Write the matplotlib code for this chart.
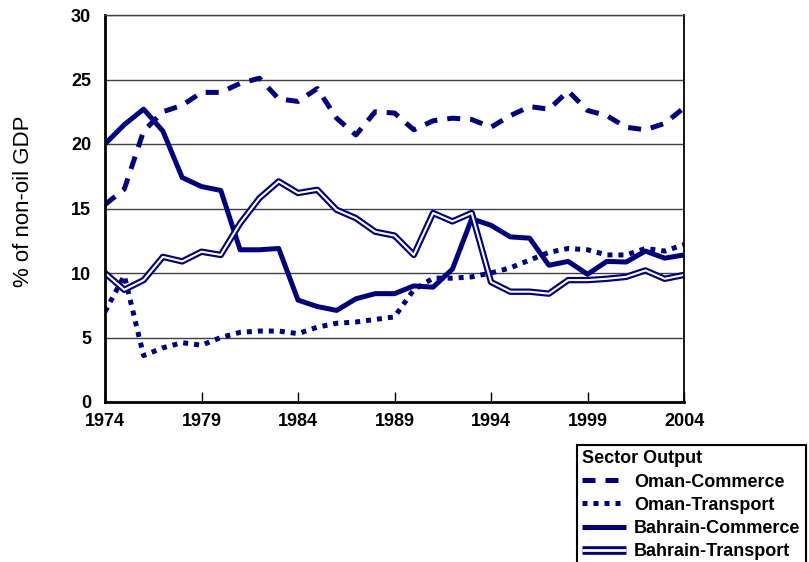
#!/usr/bin/env python3
# -*- coding: utf-8 -*-
"""
Sector output shares of non-oil GDP, Oman and Bahrain, 1974-2004.
"""
import matplotlib
matplotlib.use("Agg")
import matplotlib.pyplot as plt
from matplotlib.lines import Line2D

NAVY = "#000080"

PLOT_SETTINGS = {"font.family": ["Liberation Sans", "DejaVu Sans"],
                 "font.size": 13,
                 "font.weight": "bold",
                 "axes.labelweight": "normal",
                 "xtick.labelsize": 13,
                 "ytick.labelsize": 13,
                 "lines.solid_capstyle": "butt",
                 "lines.dash_capstyle": "butt",
                 }
plt.rcParams.update(PLOT_SETTINGS)

years = list(range(1974, 2005))

oman_commerce = [15.3, 16.5, 21.0, 22.5, 23.0, 24.0, 24.0, 24.7, 25.1, 23.5,
                 23.3, 24.3, 22.0, 20.7, 22.5, 22.4, 21.1, 21.8, 22.0, 21.9,
                 21.3, 22.2, 22.9, 22.7, 24.1, 22.6, 22.2, 21.3, 21.1, 21.6,
                 22.8]
oman_transport = [7.0, 9.8, 3.6, 4.2, 4.6, 4.4, 5.0, 5.4, 5.5, 5.5,
                  5.3, 5.8, 6.1, 6.2, 6.4, 6.6, 8.7, 9.6, 9.6, 9.7,
                  10.0, 10.4, 11.0, 11.6, 11.9, 11.8, 11.4, 11.4, 11.9, 11.7,
                  12.2]
bahrain_commerce = [20.0, 21.5, 22.7, 21.0, 17.4, 16.7, 16.4, 11.8, 11.8, 11.9,
                    7.9, 7.4, 7.1, 8.0, 8.4, 8.4, 9.0, 8.9, 10.3, 14.2,
                    13.7, 12.8, 12.7, 10.6, 10.9, 9.9, 10.9, 10.85, 11.7, 11.15,
                    11.4]
bahrain_transport = [10.0, 8.7, 9.45, 11.25, 10.9, 11.65, 11.4, 13.85, 15.8, 17.1,
                     16.2, 16.45, 14.9, 14.25, 13.2, 12.9, 11.4, 14.65, 14.0, 14.65,
                     9.3, 8.55, 8.55, 8.4, 9.45, 9.45, 9.55, 9.7, 10.2, 9.55,
                     9.85]

series_labels = ["Oman-Commerce", "Oman-Transport",
                 "Bahrain-Commerce", "Bahrain-Transport"]
xtick_years = [1974, 1979, 1984, 1989, 1994, 1999, 2004]
ytick_values = [0, 5, 10, 15, 20, 25, 30]

fig = plt.figure(figsize=(8.09, 5.62), dpi=100)
ax = fig.add_axes([105 / 809, 1 - 402 / 562, 579 / 809, 387 / 562])

ax.yaxis.grid(True, color="#404040", linewidth=1.0)
ax.set_axisbelow(True)

l1, = ax.plot(years, oman_commerce, color=NAVY, linewidth=3.6,
              dashes=(2.6, 2.0))
l2, = ax.plot(years, oman_transport, color=NAVY, linewidth=3.6,
              dashes=(1.0, 1.2))
l3, = ax.plot(years, bahrain_commerce, color=NAVY, linewidth=3.6)
ax.plot(years, bahrain_transport, color=NAVY, linewidth=4.6)
ax.plot(years, bahrain_transport, color="white", linewidth=1.5)

ax.set_xlim(1974, 2004)
ax.set_ylim(0, 30)
ax.set_xticks(xtick_years)
ax.set_yticks(ytick_values)
ax.tick_params(axis="x", direction="in", length=7, width=1.0, pad=8)
ax.tick_params(axis="y", direction="in", length=0, pad=10)

for side in ["left", "bottom"]:
    ax.spines[side].set_linewidth(2.0)
ax.spines["right"].set_linewidth(1.3)
ax.spines["top"].set_linewidth(1.0)
ax.spines["top"].set_color("#404040")

ax.set_ylabel("% of non-oil GDP", fontsize=16, fontweight="normal")
ax.yaxis.set_label_coords(-0.122, 0.52)

# legend proxy for the double line, drawn a bit heavier like the original
double_outer = Line2D([], [], color=NAVY, linewidth=6.2)
double_inner = Line2D([], [], color="white", linewidth=2.0)

leg = fig.legend([l1, l2, l3, (double_outer, double_inner)], series_labels,
                 loc="upper left",
                 bbox_to_anchor=(577 / 809, 1 - 445 / 562),
                 borderaxespad=0.0,
                 title="Sector Output",
                 title_fontproperties={"weight": "bold", "size": 13},
                 alignment="left",
                 frameon=True, fancybox=False,
                 edgecolor="black",
                 handlelength=2.4,
                 handletextpad=0.45,
                 labelspacing=0.34,
                 borderpad=0.3)
leg.get_frame().set_linewidth(1.5)
leg.get_frame().set_alpha(None)

fig.savefig("out.png", dpi=100)
